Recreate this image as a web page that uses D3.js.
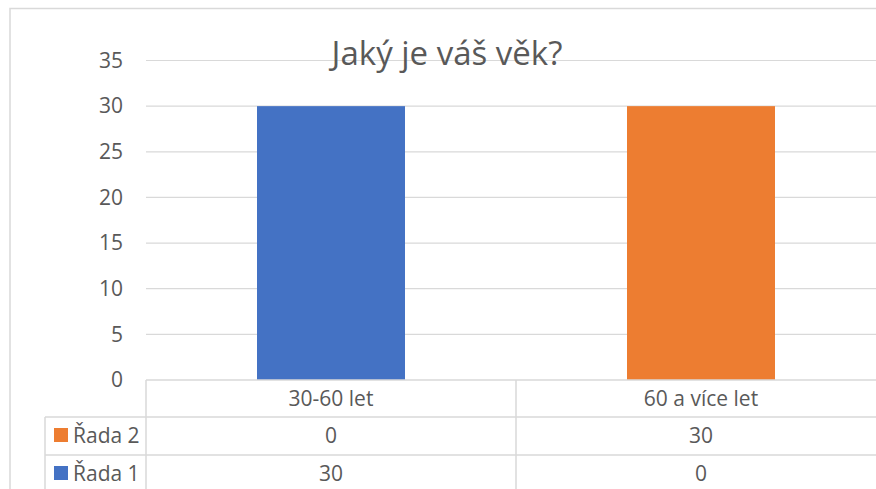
<!DOCTYPE html>
<html>
<head>
<meta charset="utf-8">
<script src="https://cdn.jsdelivr.net/npm/d3@7/dist/d3.min.js"></script>
<style>
  body { margin: 0; background: #fff; }
  svg { display: block; font-family: "Open Sans", sans-serif; }
  text { fill: #595959; }
</style>
</head>
<body>
<svg id="chart"></svg>
<script>
const WIDTH = 876;
const HEIGHT = 489;

const TITLE = "Jaký je váš věk?";
const categories = ["30-60 let", "60 a více let"];
const seriesNames = ["Řada 1", "Řada 2"];
const seriesColors = ["#4472C4", "#ED7D31"];
const rada1 = [30, 0];
const rada2 = [0, 30];
const yTicks = [0, 5, 10, 15, 20, 25, 30, 35];

const GRID = "#D9D9D9";
const FONT = 21;

// plot area
const PLOT_LEFT = 146, PLOT_RIGHT = 886, PLOT_TOP = 60.5, PLOT_BOTTOM = 380;
// data table rows (category row, Řada 2, Řada 1)
const rowEdges = [380, 417, 455, 493];
const legendLeft = 45;

const $svg = d3.select("#chart").attr("width", WIDTH).attr("height", HEIGHT);

// chart border
$svg.append("path")
  .attr("d", `M10,${HEIGHT + 5}V8.5H${WIDTH + 5}`)
  .attr("fill", "none")
  .attr("stroke", GRID)
  .attr("stroke-width", 1.5);

const x = d3.scaleBand()
  .domain(categories)
  .range([PLOT_LEFT, PLOT_RIGHT])
  .paddingInner(0.6)
  .paddingOuter(0.3);

const y = d3.scaleLinear().domain([0, 35]).range([PLOT_BOTTOM, PLOT_TOP]);

// gridlines
$svg.append("g")
  .selectAll("line")
  .data(yTicks.slice(1))
  .join("line")
  .attr("x1", PLOT_LEFT)
  .attr("x2", WIDTH + 5)
  .attr("y1", d => y(d))
  .attr("y2", d => y(d))
  .attr("stroke", GRID)
  .attr("stroke-width", 1.2);

// y labels
const yAxis = d3.axisLeft(y).tickValues(yTicks).tickSize(0).tickPadding(0);
const gy = $svg.append("g").attr("transform", `translate(123,0)`).call(yAxis);
gy.select(".domain").remove();
gy.selectAll("text")
  .attr("fill", "#595959")
  .style("font-size", FONT + "px")
  .style("font-family", "'Open Sans', sans-serif");

// stacked bars
const rows = categories.map((c, i) => ({ cat: c, s0: rada1[i], s1: rada2[i] }));
const stacked = d3.stack().keys(["s0", "s1"])(rows);

$svg.append("g")
  .selectAll("g")
  .data(stacked)
  .join("g")
  .attr("fill", (d, i) => seriesColors[i])
  .selectAll("rect")
  .data(d => d)
  .join("rect")
  .attr("x", d => x(d.data.cat))
  .attr("width", x.bandwidth())
  .attr("y", d => y(d[1]))
  .attr("height", d => y(d[0]) - y(d[1]));

// title
$svg.append("text")
  .attr("x", 447)
  .attr("y", 65)
  .attr("text-anchor", "middle")
  .style("font-size", "33px")
  .text(TITLE);

// data table
const table = $svg.append("g").attr("stroke", GRID).attr("stroke-width", 1.5);
table.append("line")
  .attr("x1", PLOT_LEFT).attr("x2", WIDTH + 5)
  .attr("y1", rowEdges[0]).attr("y2", rowEdges[0]);
rowEdges.slice(1, 3).forEach(yy => {
  table.append("line")
    .attr("x1", legendLeft).attr("x2", WIDTH + 5)
    .attr("y1", yy).attr("y2", yy);
});
table.append("line")
  .attr("x1", legendLeft).attr("x2", legendLeft)
  .attr("y1", rowEdges[1]).attr("y2", HEIGHT + 5);
const step = x.step();
const bounds = [PLOT_LEFT, PLOT_LEFT + step];
bounds.forEach(bx => {
  table.append("line")
    .attr("x1", bx).attr("x2", bx)
    .attr("y1", rowEdges[0]).attr("y2", HEIGHT + 5);
});

const rowMid = i => (rowEdges[i] + rowEdges[i + 1]) / 2 - 1;
const cx = c => x(c) + x.bandwidth() / 2;

// category row
$svg.append("g")
  .selectAll("text")
  .data(categories)
  .join("text")
  .attr("x", cx)
  .attr("y", rowMid(0))
  .attr("text-anchor", "middle")
  .attr("dominant-baseline", "central")
  .style("font-size", FONT + "px")
  .text(d => d);

// series rows: Řada 2 above Řada 1
const tableSeries = [
  { name: seriesNames[1], color: seriesColors[1], values: rada2 },
  { name: seriesNames[0], color: seriesColors[0], values: rada1 }
];

tableSeries.forEach((s, r) => {
  const my = rowMid(r + 1);
  $svg.append("rect")
    .attr("x", 54).attr("y", my - 7)
    .attr("width", 14).attr("height", 14)
    .attr("fill", s.color);
  $svg.append("text")
    .attr("x", 73).attr("y", my)
    .attr("dominant-baseline", "central")
    .style("font-size", FONT + "px")
    .text(s.name);
  $svg.append("g")
    .selectAll("text")
    .data(categories)
    .join("text")
    .attr("x", cx)
    .attr("y", my)
    .attr("text-anchor", "middle")
    .attr("dominant-baseline", "central")
    .style("font-size", FONT + "px")
    .text((c, i) => s.values[i]);
});
</script>
</body>
</html>
